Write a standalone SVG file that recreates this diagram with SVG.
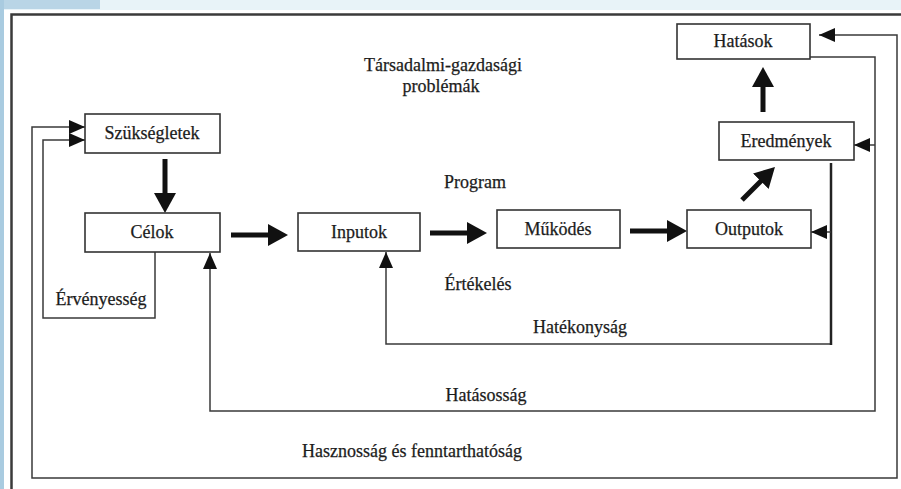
<svg xmlns="http://www.w3.org/2000/svg" width="901" height="489" viewBox="0 0 901 489">
<style>
.box{fill:#fff;stroke:#333;stroke-width:1.6}
.t{font-family:"Liberation Serif","Times New Roman",serif;font-size:18px;fill:#1c1c1c;stroke:#1c1c1c;stroke-width:0.25;text-anchor:middle}
.thin{fill:none;stroke:#3a3a3a;stroke-width:1.5}
.thick{fill:none;stroke:#111;stroke-width:5}
</style>
<defs>
<marker id="ah" markerUnits="userSpaceOnUse" markerWidth="16" markerHeight="14" refX="16" refY="7" orient="auto-start-reverse" viewBox="0 0 16 14">
<path d="M0,0 L16,7 L0,14 z" fill="#111"/>
</marker>
<marker id="big" markerUnits="userSpaceOnUse" markerWidth="20" markerHeight="22" refX="12" refY="11" orient="auto" viewBox="0 0 20 22">
<path d="M0,0 L20,11 L0,22 z" fill="#111"/>
</marker>
</defs>
<rect x="0" y="0" width="901" height="489" fill="#fff"/>
<rect x="0" y="0" width="901" height="10" fill="#e8f3f8"/>
<rect x="0" y="0" width="100" height="9" fill="#b9d5e6"/>
<rect x="0" y="0" width="4" height="489" fill="#a9cbe0"/>
<path d="M11.5,489 L11.5,14.5 L901,14.5" fill="none" stroke="#3a3a3a" stroke-width="2.5"/>

<g id="connectors">
<line class="thick" x1="165" y1="159" x2="165" y2="205" marker-end="url(#big)"/>
<line class="thick" x1="231" y1="235" x2="280" y2="235" marker-end="url(#big)"/>
<line class="thick" x1="430" y1="233" x2="479" y2="233" marker-end="url(#big)"/>
<line class="thick" x1="630" y1="231" x2="679" y2="231" marker-end="url(#big)"/>
<line class="thick" x1="742" y1="200" x2="769.3" y2="172.7" marker-end="url(#big)"/>
<line class="thick" x1="763" y1="112" x2="763" y2="75" marker-end="url(#big)"/>

<path class="thin" d="M819,35 L897,35 L897,478 L32,478 L32,127 L85,127" marker-start="url(#ah)" marker-end="url(#ah)"/>
<path class="thin" d="M155,252 L155,318 L43,318 L43,140 L85,140" marker-end="url(#ah)"/>
<path class="thin" d="M810,57 L875,57 L875,411 L210,411 L210,253" marker-end="url(#ah)"/>
<line class="thin" x1="875" y1="145" x2="854" y2="145" marker-end="url(#ah)"/>
<path class="thin" d="M831,344 L386,344 L386,252" marker-end="url(#ah)"/>
<line x1="831" y1="163" x2="831" y2="345" stroke="#222" stroke-width="2.5"/>
<line class="thin" x1="831" y1="232" x2="811" y2="232" marker-end="url(#ah)"/>
</g>

<g id="szuksegletek"><rect class="box" x="85" y="114" width="135" height="39"/><text class="t" x="152" y="139">Szükségletek</text></g>
<g id="celok"><rect class="box" x="85" y="213" width="135" height="39"/><text class="t" x="152" y="238">Célok</text></g>
<g id="inputok"><rect class="box" x="298" y="213" width="122" height="38"/><text class="t" x="359" y="238">Inputok</text></g>
<g id="mukodes"><rect class="box" x="497" y="210" width="123" height="38"/><text class="t" x="558" y="235">Működés</text></g>
<g id="outputok"><rect class="box" x="687" y="210" width="124" height="38"/><text class="t" x="749" y="235">Outputok</text></g>
<g id="eredmenyek"><rect class="box" x="719" y="122" width="135" height="38"/><text class="t" x="786" y="147">Eredmények</text></g>
<g id="hatasok"><rect class="box" x="677" y="24" width="133" height="35"/><text class="t" x="743" y="47">Hatások</text></g>

<g id="labels">
<text class="t" x="443" y="71">Társadalmi-gazdasági</text>
<text class="t" x="441" y="92">problémák</text>
<text class="t" x="475" y="188">Program</text>
<text class="t" x="478" y="290">Értékelés</text>
<text class="t" x="101" y="305">Érvényesség</text>
<text class="t" x="580" y="333">Hatékonyság</text>
<text class="t" x="486" y="401">Hatásosság</text>
<text class="t" x="412" y="457">Hasznosság és fenntarthatóság</text>
</g>
</svg>
